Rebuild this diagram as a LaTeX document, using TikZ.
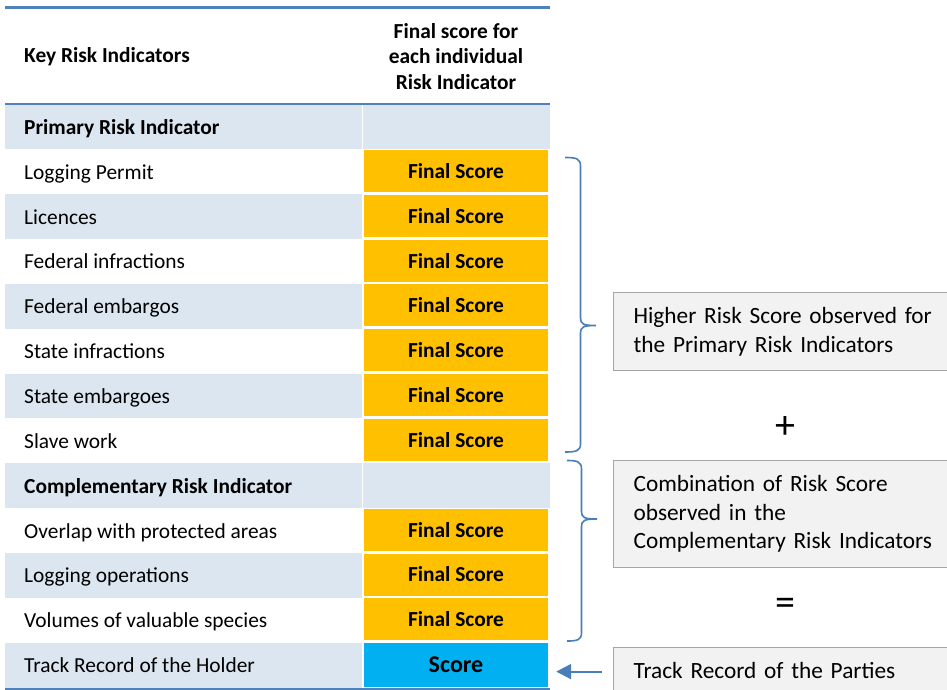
\documentclass[tikz,border=0pt]{standalone}
\usepackage{fontspec}
\setmainfont{Carlito}
\usetikzlibrary{arrows.meta}
\definecolor{hdrline}{HTML}{4F81BD}
\definecolor{rowblue}{HTML}{DCE6F1}
\definecolor{gold}{HTML}{FFC000}
\definecolor{cyanbox}{HTML}{00B0F0}
\definecolor{bracecol}{HTML}{4A7EBB}
\definecolor{notefill}{HTML}{F2F2F2}
\definecolor{notedraw}{HTML}{A6A6A6}
\begin{document}
\begin{tikzpicture}[x=1pt,y=-1pt,
  lbl/.style={anchor=base west, inner sep=0pt, font=\fontsize{21.4}{25}\selectfont},
  lblb/.style={anchor=base west, inner sep=0pt, font=\fontsize{21.4}{25}\selectfont\bfseries},
  scorebox/.style={fill=gold, minimum width=184pt, minimum height=42pt, inner sep=0pt, font=\fontsize{21.4}{25}\selectfont\bfseries},
  holderbox/.style={fill=cyanbox, minimum width=184pt, minimum height=44.5pt, inner sep=0pt, font=\fontsize{24}{28}\selectfont\bfseries},
  notebox/.style={anchor=north west, fill=notefill, draw=notedraw, line width=1.2pt, inner xsep=20pt, inner ysep=0pt, text width=320pt, align=left, font=\fontsize{23.3}{28.5}\selectfont},
  hline/.style={draw=hdrline, line width=2.5pt},
  bracestyle/.style={draw=bracecol, line width=1.6pt},
  arr/.style={draw=bracecol, line width=2.2pt, -{Triangle[length=15pt,width=15pt]}},
  opsign/.style={inner sep=0pt, font=\fontsize{40}{40}\selectfont}
]
\clip (0,0) rectangle (947,690);
\fill[white] (0,0) rectangle (947,690);

% row stripes
\foreach \i in {0,2,4,6,8,10,12}
  \fill[rowblue] (5,{104.5+44.85*\i}) rectangle (361.5,{104.5+44.85*(\i+1)});
\foreach \i in {0,8}
  \fill[rowblue] (363,{104.5+44.85*\i}) rectangle (549.5,{104.5+44.85*(\i+1)});

% header
\node[lblb] (hkey) at (24,63) {Key Risk Indicators};
\node[align=center, inner sep=0pt, font=\fontsize{21.4}{25.5}\selectfont\bfseries] (hscore) at (456,56.5) {Final score for\\each individual\\Risk Indicator};

% lines
\draw[hline] (5,7.5) -- (549.5,7.5);
\draw[hline] (5,104) -- (549.5,104);
\draw[draw=hdrline, line width=2pt] (5,688.5) -- (549.5,688.5);

% labels
\node[lblb] (lab0) at (24,{104.5+44.85*0.5+7.5}) {Primary Risk Indicator};
\node[lblb] (lab8) at (24,{104.5+44.85*8.5+7.5}) {Complementary Risk Indicator};
\foreach \i/\t in {1/Logging Permit, 2/Licences, 3/Federal infractions, 4/Federal embargos, 5/State infractions, 6/State embargoes, 7/Slave work, 9/Overlap with protected areas, 10/Logging operations, 11/Volumes of valuable species, 12/Track Record of the Holder}
  \node[lbl] (lab\i) at (24,{104.5+44.85*(\i+0.5)+7.5}) {\t};

% score boxes
\foreach \i in {1,2,3,4,5,6,7,9,10,11}
  \node[scorebox] (sc\i) at (456,{104.5+44.85*(\i+0.5)-0.9}) {Final Score};
\node[holderbox] (sc12) at (456,665.1) {Score};

% note boxes
\node[notebox, minimum height=78pt] (note1) at (613,292) {Higher Risk Score observed for\\the Primary Risk Indicators};
\node[notebox, minimum height=107pt] (note2) at (613,460) {Combination of Risk Score\\observed in the\\Complementary Risk Indicators};
\node[notebox, minimum height=45pt] (note3) at (613,647) {Track Record of the Parties};

% operators
\node[opsign] (plus) at (785,427) {+};
\node[opsign] (eq) at (785,607) {=};

% braces
\coordinate (b1top) at (565,157.5);
\coordinate (b1tip) at (596,325.5);
\coordinate (b1bot) at (565,452);
\draw[bracestyle] (b1top) .. controls (576,157.5) and (580.5,158.5) .. (580.5,166) -- (580.5,318)
  .. controls (580.5,324) and (583,325.5) .. (b1tip)
  .. controls (583,325.5) and (580.5,327) .. (580.5,333) -- (580.5,444)
  .. controls (580.5,451) and (576,452) .. (b1bot);
\coordinate (b2top) at (567,460.5);
\coordinate (b2tip) at (597,519);
\coordinate (b2bot) at (567,641);
\draw[bracestyle] (b2top) .. controls (577,460.5) and (581.5,461.5) .. (581.5,469) -- (581.5,511.5)
  .. controls (581.5,517.5) and (584,519) .. (b2tip)
  .. controls (584,519) and (581.5,520.5) .. (581.5,526.5) -- (581.5,633)
  .. controls (581.5,640) and (577,641) .. (b2bot);

% arrow
\draw[arr, shorten <=11pt, shorten >=8pt] ([yshift=-1.5pt]note3.west) -- ([yshift=-1.5pt]note3.west -| sc12.east);
\end{tikzpicture}
\end{document}
